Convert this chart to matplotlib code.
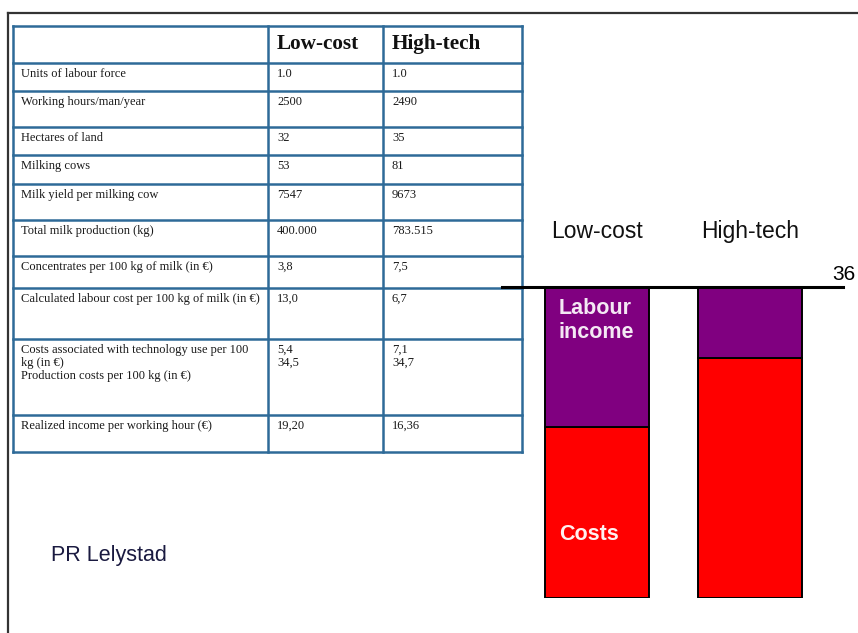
import matplotlib
matplotlib.use("Agg")
from matplotlib import pyplot as plt

# table content
col_headers = ["Low-cost", "High-tech"]
row_labels = [
    "Units of labour force",
    "Working hours/man/year",
    "Hectares of land",
    "Milking cows",
    "Milk yield per milking cow",
    "Total milk production (kg)",
    "Concentrates per 100 kg of milk (in €)",
    "Calculated labour cost per 100 kg of milk (in €)",
    "Costs associated with technology use per 100\nkg (in €)\nProduction costs per 100 kg (in €)",
    "Realized income per working hour (€)",
]
low_cost_vals = ["1.0", "2500", "32", "53", "7547", "400.000", "3,8", "13,0",
                 "5,4\n34,5", "19,20"]
high_tech_vals = ["1.0", "2490", "35", "81", "9673", "783.515", "7,5", "6,7",
                  "7,1\n34,7", "16,36"]

# bar content (per 100 kg of milk)
systems = ["Low-cost", "High-tech"]
costs = [19.8, 27.8]
labour_income = [16.2, 8.2]
total_price = 36

W, H = 858, 633
fig = plt.figure(figsize=(W / 100, H / 100), dpi=100)

# background axes in pixel coordinates for frame and table
bg = fig.add_axes([0, 0, 1, 1])
bg.set_xlim(0, W)
bg.set_ylim(H, 0)
bg.axis("off")

bg.plot([8, W], [12.5, 12.5], color="#333333", lw=1.6)
bg.plot([8, 8], [12.5, H], color="#333333", lw=1.6)

row_edges = [26, 63, 91, 127, 155, 184, 220, 256, 288, 339, 415, 452]
col_edges = [13, 268, 383, 522]
tcol = "#2e6a98"
for y in row_edges:
    bg.plot([col_edges[0], col_edges[-1]], [y, y], color=tcol, lw=1.8,
            solid_capstyle="projecting")
for x in col_edges:
    bg.plot([x, x], [row_edges[0], row_edges[-1]], color=tcol, lw=1.8,
            solid_capstyle="projecting")

serif = "Liberation Serif"
for j, name in enumerate(col_headers):
    bg.text(col_edges[j + 1] + 9, 49, name, family=serif, fontsize=15.3,
            fontweight="bold", va="baseline", ha="left", color="#111111")

fs = 9
for i, label in enumerate(row_labels):
    top = row_edges[i + 1] + 5
    bg.text(col_edges[0] + 8, top, label, family=serif, fontsize=fs,
            va="top", ha="left", color="#1a1a1a", linespacing=1.12)
    bg.text(col_edges[1] + 9, top, low_cost_vals[i], family=serif,
            fontsize=fs, va="top", ha="left", color="#1a1a1a",
            linespacing=1.12)
    bg.text(col_edges[2] + 9, top, high_tech_vals[i], family=serif,
            fontsize=fs, va="top", ha="left", color="#1a1a1a",
            linespacing=1.12)

sans = "Liberation Sans"
bg.text(51, 555, "PR Lelystad", family=sans, fontsize=15.5, va="center",
        ha="left", color="#1a1a40")

# bar axes
ax = fig.add_axes([502 / W, (H - 598) / H, 341 / W, 311 / H])
ax.patch.set_alpha(0)
ax.set_ylim(0, total_price)
ax.set_xlim(-0.619, 1.603)
ax.axis("off")

x = range(len(systems))
bw = 0.678
ax.bar(x, costs, width=bw, color="#ff0000", edgecolor="black", lw=1.4)
ax.bar(x, labour_income, bottom=costs, width=bw, color="#800080",
       edgecolor="black", lw=1.4)
ax.axhline(total_price, color="black", lw=2.2, clip_on=False)

ax.text(1.038, total_price + 0.8, str(total_price), family=sans, fontsize=15,
        ha="right", va="baseline", transform=ax.get_yaxis_transform(),
        clip_on=False)
for xi, name in zip(x, systems):
    ax.text(xi, total_price + 6.4, name, family=sans, fontsize=16.5,
            ha="center", va="center", clip_on=False, color="#111111")

ax.text(-bw / 2 + 0.09, total_price - 1.3, "Labour\nincome", family=sans,
        fontsize=15.5, fontweight="bold", color="#f4e8f4", ha="left",
        va="top", linespacing=1.15)
ax.text(-bw / 2 + 0.09, 7.4, "Costs", family=sans, fontsize=15.5,
        fontweight="bold", color="#fff0f0", ha="left", va="center")

fig.savefig("out.png", dpi=100)
